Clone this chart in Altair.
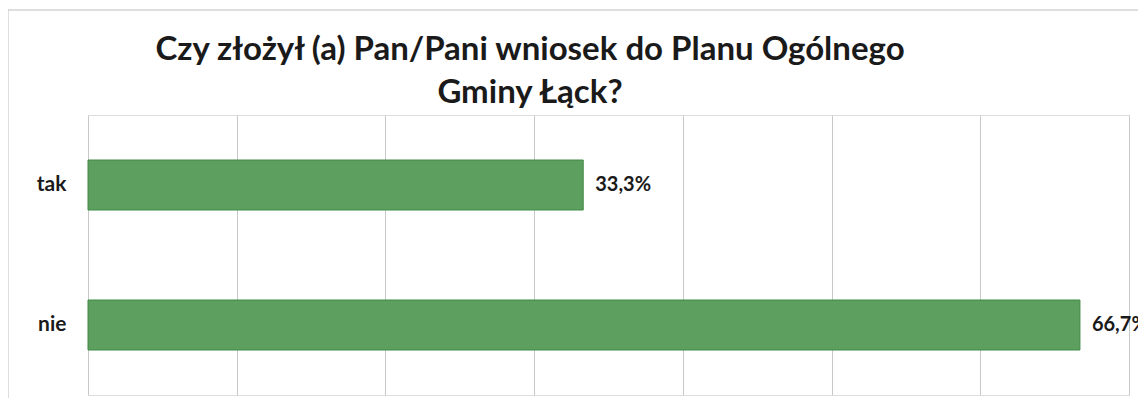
import altair as alt
import pandas as pd

categories = ["tak", "nie"]
values = [33.3, 66.7]
x_ticks = [0, 10, 20, 30, 40, 50, 60, 70]
title_lines = ["Czy złożył (a) Pan/Pani wniosek do Planu Ogólnego", "Gminy Łąck?"]

df = pd.DataFrame({
    "odp": categories,
    "val": values,
    "label": [f"{v:.1f}".replace(".", ",") + "%" for v in values],
})

FONT = "Lato"

base = alt.Chart(df)

x_enc = alt.X("val:Q", scale=alt.Scale(domain=[0, 70], nice=False),
              axis=alt.Axis(values=x_ticks, labels=False, ticks=False, domain=False,
                            grid=True, gridColor="#c8c8c8", gridWidth=1, title=None))
y_enc = alt.Y("odp:N", sort=categories,
              scale=alt.Scale(paddingInner=0, paddingOuter=0),
              axis=alt.Axis(ticks=False, domain=False, title=None, labelFont=FONT,
                            labelFontSize=21, labelFontWeight="bold", labelColor="#1a1a1a",
                            labelPadding=22))

bars = base.mark_bar(size=50, color="#5c9f5f", stroke="#3f8a47", strokeWidth=1).encode(
    x=x_enc, y=y_enc
)

labels = base.mark_text(align="left", baseline="middle", dx=12, font=FONT,
                        fontSize=20, fontWeight="bold", color="#1a1a1a").encode(
    x="val:Q", y=alt.Y("odp:N", sort=categories), text="label:N"
)

frame = alt.Chart(alt.Data(values=[{"a": 1}])).mark_rect(
    fill=None, stroke="#bdbdbd", strokeWidth=1
).encode(
    x=alt.value(-80), x2=alt.value(1200), y=alt.value(-105), y2=alt.value(500)
)

title_df = pd.DataFrame({"t": title_lines, "line": [0, 1]})
title_style = dict(align="center", baseline="alphabetic", font=FONT, fontSize=33,
                   fontWeight="bold", color="#1a1a1a")
title1 = alt.Chart(title_df.iloc[[0]]).mark_text(**title_style).encode(
    x=alt.value(442), y=alt.value(-55), text="t:N"
)
title2 = alt.Chart(title_df.iloc[[1]]).mark_text(**title_style).encode(
    x=alt.value(442), y=alt.value(-12), text="t:N"
)

chart = alt.layer(frame, bars, labels, title1, title2).properties(
    width=1041,
    height=280,
    autosize=alt.AutoSizeParams(type="none"),
    padding={"left": 80, "top": 107, "right": 9, "bottom": 3},
).configure_view(stroke=None).configure(background="white")

chart.save("out.html", embed_options={"renderer": "svg", "actions": False})
